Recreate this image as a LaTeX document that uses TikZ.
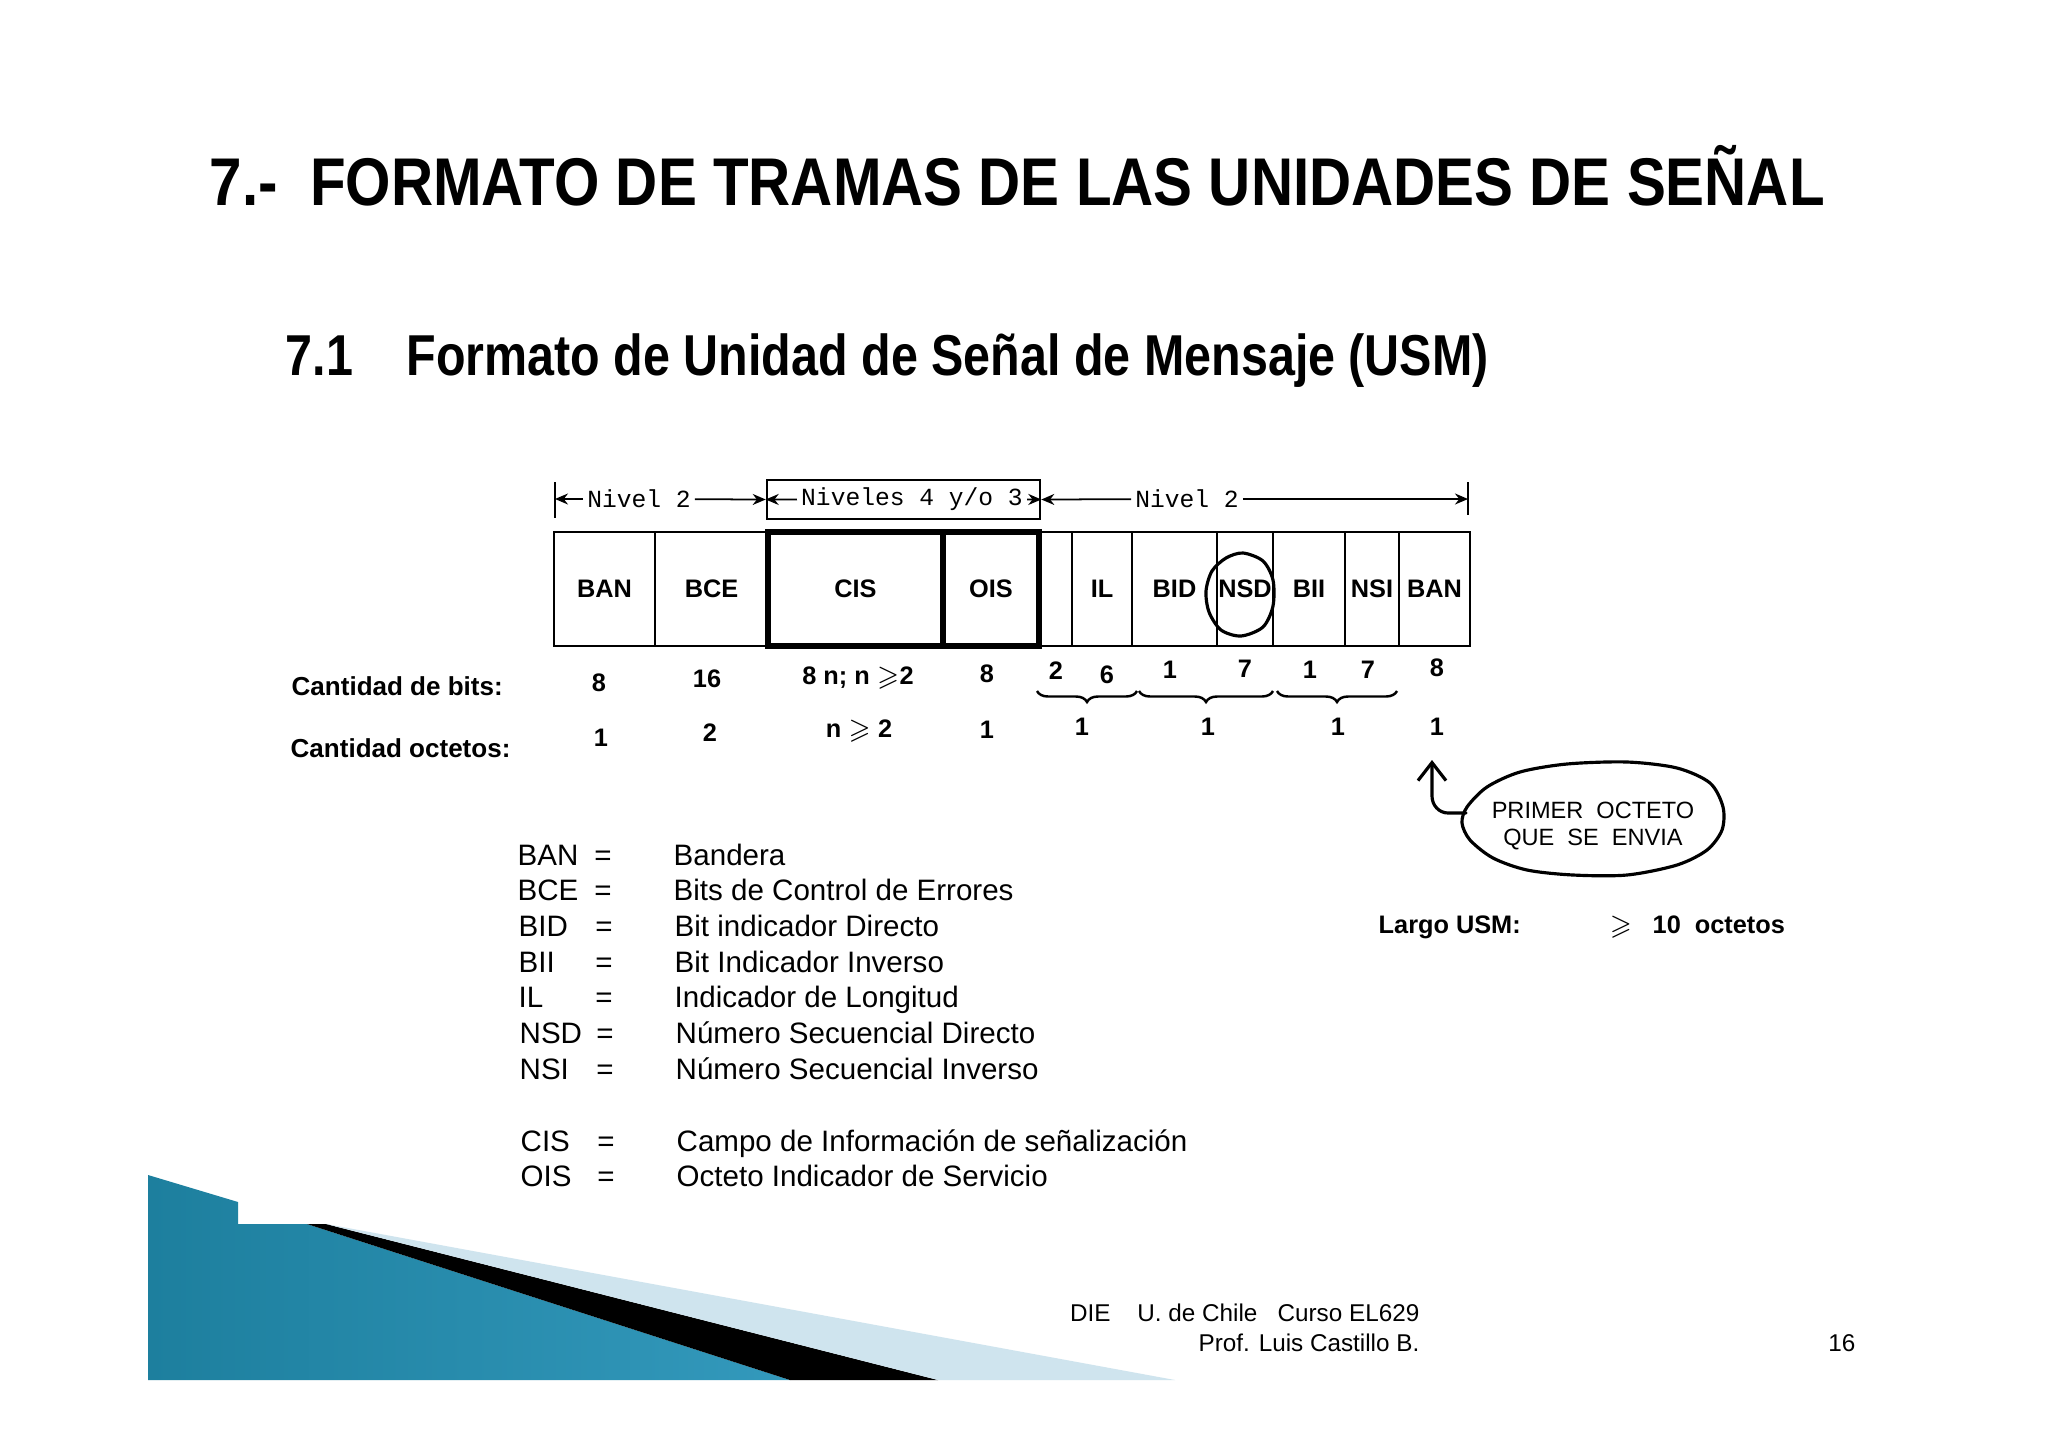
\documentclass[tikz,border=0pt]{standalone}
\usepackage{amsmath}
\usepackage{amssymb}
\usepackage{graphicx}
\usepackage{fontspec}
\setmainfont{Liberation Sans}
\setmonofont{Liberation Mono}
\usetikzlibrary{arrows.meta,decorations.pathreplacing}

\definecolor{tealosc}{HTML}{1D7F9E}
\definecolor{tealcla}{HTML}{5BBEDD}
\definecolor{tealmed}{HTML}{3399BC}
\definecolor{celeste}{HTML}{CFE4EE}

\newcommand{\fttitulo}{\fontsize{19.2}{23}\selectfont\bfseries}
\newcommand{\ftsub}{\fontsize{16.4}{20}\selectfont\bfseries}
\newcommand{\ftcampo}{\fontsize{7.2}{8.5}\selectfont\bfseries}
\newcommand{\ftcant}{\fontsize{7.4}{8.5}\selectfont\bfseries}
\newcommand{\ftnivel}{\fontsize{7}{8}\selectfont\ttfamily}
\newcommand{\ftleyenda}{\fontsize{8.4}{10}\selectfont}
\newcommand{\ftpie}{\fontsize{6.9}{8}\selectfont}
\newcommand{\ftnota}{\fontsize{6.7}{7.8}\selectfont}

\tikzset{
  campo/.style={draw, line width=0.7pt, minimum height=1.14cm, inner sep=0pt, font=\ftcampo},
  grueso/.style={campo, line width=1.6pt},
  num/.style={font=\ftcampo, inner sep=1pt},
  cota/.style={line width=0.5pt, -{Stealth[length=1.3mm,width=1.1mm]}},
  marca/.style={line width=0.6pt},
  llave/.style={line width=0.7pt, decorate, decoration={brace, mirror, amplitude=1.1mm}},
  mano/.style={line width=0.9pt, line cap=round, line join=round},
  abrev/.style={anchor=base west, font=\ftleyenda, inner sep=0pt},
  igual/.style={anchor=base, font=\ftleyenda, inner sep=0pt},
}

\begin{document}
\begin{tikzpicture}[x=0.01cm, y=-0.01cm]

\fill[white] (0,0) rectangle (2048,1448);
\useasboundingbox (0,0) rectangle (2048,1448);

% titles:
\node[anchor=base west, font=\fttitulo, inner sep=0pt] (titulo) at (209,205)
  {\scalebox{0.864}[1]{7.-\ \ FORMATO DE TRAMAS DE LAS UNIDADES DE SEÑAL}};
\node[anchor=base west, font=\ftsub, inner sep=0pt] (subnum) at (285,375) {\scalebox{0.84}[1]{7.1}};
\node[anchor=base west, font=\ftsub, inner sep=0pt] (subtit) at (406,375)
  {\scalebox{0.84}[1]{Formato de Unidad de Señal de Mensaje (USM)}};

% levels on top:
\coordinate (ci) at (555,499);
\draw[marca] (555,482) -- (555,518);
\node[font=\ftnivel, inner sep=1pt] (niv2a) at (639,499) {Nivel 2};
\node[draw, line width=0.7pt, minimum width=2.73cm, minimum height=0.39cm, inner sep=0pt] (cajaniv) at (903.5,499.5) {};
\node[font=\ftnivel, inner sep=1pt] (niv43) at (912,499) {Niveles 4 y/o 3};
\node[font=\ftnivel, inner sep=1pt] (niv2b) at (1187,499) {Nivel 2};
\coordinate (cd) at (1468,499);
\draw[marca] (1468,482) -- (1468,515);

\draw[cota] (niv2a) -- (ci);
\draw[cota] (niv2a) -- (cajaniv.west);
\draw[cota] (niv43) -- (cajaniv.west);
\draw[cota] (niv43) -- (cajaniv.east);
\draw[cota] (niv2b) -- (cajaniv.east);
\draw[cota] (niv2b) -- (cd);

% fields of the frame:
\node[campo, minimum width=1.01cm] (ban1) at (604.5,589) {BAN};
\node[campo, minimum width=1.13cm] (bce) at (711.5,589) {BCE};
\node[campo, minimum width=0.33cm] (res) at (1055.5,589) {};
\node[campo, minimum width=0.60cm] (il) at (1102,589) {IL};
\node[campo, minimum width=0.85cm] (bid) at (1174.5,589) {BID};
\node[campo, minimum width=0.56cm] (nsd) at (1245,589) {NSD};
\node[campo, minimum width=0.72cm] (bii) at (1309,589) {BII};
\node[campo, minimum width=0.54cm] (nsi) at (1372,589) {NSI};
\node[campo, minimum width=0.71cm] (ban2) at (1434.5,589) {BAN};
\node[grueso, minimum width=1.75cm] (cis) at (855.5,589) {CIS};
\node[grueso, minimum width=0.96cm] (ois) at (991,589) {OIS};

% circle round NSD:
\draw[mano] plot[smooth cycle] coordinates {(1243,553) (1263,561) (1273,580) (1273,606) (1263,627) (1241,636) (1221,630) (1209,612) (1206,591) (1212,571) (1226,558)};

% bits:
\node[anchor=base west, font=\ftcant, inner sep=0pt] (cbits) at (291,695) {Cantidad de bits:};
\node[num] (b1) at (599,683) {8};
\node[num] (b2) at (707,679) {16};
\node[num] (b3) at (858,678) {8 n; n $\geqslant$2};
\node[num] (b4) at (987,674) {8};
\node[num] (b5) at (1056,671) {2};
\node[num] (b6) at (1107,675) {6};
\node[num] (b7) at (1170,670) {1};
\node[num] (b8) at (1245,669) {7};
\node[num] (b9) at (1310,670) {1};
\node[num] (b10) at (1368,670) {7};
\node[num] (b11) at (1437,668) {8};

\draw[llave] (1037,691) -- (1137,691);
\draw[llave] (1139,691) -- (1273,691);
\draw[llave] (1277,691) -- (1397,691);

% octets:
\node[anchor=base west, font=\ftcant, inner sep=0pt] (coct) at (290,757) {Cantidad octetos:};
\node[num] (o1) at (601,738) {1};
\node[num] (o2) at (710,733) {2};
\node[num] (o3) at (859,731) {n $\geqslant$ 2};
\node[num] (o4) at (987,730) {1};
\node[num] (o5) at (1082,727) {1};
\node[num] (o6) at (1208,727) {1};
\node[num] (o7) at (1338,727) {1};
\node[num] (o8) at (1437,727) {1};

% note:
\node[font=\ftnota, align=center, inner sep=1pt] (nota) at (1593,826) {PRIMER\ \ OCTETO\\QUE\ \ SE\ \ ENVIA};
\draw[mano] plot[smooth cycle] coordinates {(1467,807) (1487,787) (1520,772) (1567,764) (1627,762) (1677,768) (1710,783) (1723,807) (1722,830) (1707,850) (1677,865) (1627,875) (1573,875) (1527,870) (1493,858) (1470,840) (1462,823)};
\coordinate (notaiz) at (1466,813);
\coordinate (primer) at (1432,760);
\draw[mano, -{Straight Barb[length=1.8mm,width=2.8mm]}] (notaiz) -- (1448,813) to[out=180, in=-90] (1432,796) -- (primer);

\node[anchor=base west, font=\ftcampo, inner sep=0pt] (largo) at (1378,933) {Largo USM:};
\node[font=\ftcampo, inner sep=0pt] (mayor) at (1621,927) {$\boldsymbol{\geqslant}$};
\node[anchor=base west, font=\ftcampo, inner sep=0pt] (diez) at (1652,933) {10\ \ octetos};

% legend:
\node[abrev] (l1a) at (517,865) {BAN};
\node[igual] (l1e) at (603,865) {=};
\node[abrev] (l1d) at (673,865) {Bandera};
\node[abrev] (l2a) at (517,900) {BCE};
\node[igual] (l2e) at (603,900) {=};
\node[abrev] (l2d) at (673,900) {Bits de Control de Errores};
\node[abrev] (l3a) at (518,936) {BID};
\node[igual] (l3e) at (604,936) {=};
\node[abrev] (l3d) at (674,936) {Bit indicador Directo};
\node[abrev] (l4a) at (518,972) {BII};
\node[igual] (l4e) at (604,972) {=};
\node[abrev] (l4d) at (674,972) {Bit Indicador Inverso};
\node[abrev] (l5a) at (518,1007) {IL};
\node[igual] (l5e) at (604,1007) {=};
\node[abrev] (l5d) at (674,1007) {Indicador de Longitud};
\node[abrev] (l6a) at (519,1043) {NSD};
\node[igual] (l6e) at (605,1043) {=};
\node[abrev] (l6d) at (675,1043) {Número Secuencial Directo};
\node[abrev] (l7a) at (519,1079) {NSI};
\node[igual] (l7e) at (605,1079) {=};
\node[abrev] (l7d) at (675,1079) {Número Secuencial Inverso};

\node[abrev] (l8a) at (520,1151) {CIS};
\node[igual] (l8e) at (606,1151) {=};
\node[abrev] (l8d) at (676,1151) {Campo de Información de señalización};
\node[abrev] (l9a) at (520,1186) {OIS};
\node[igual] (l9e) at (606,1186) {=};
\node[abrev] (l9d) at (676,1186) {Octeto Indicador de Servicio};

% bottom corner:
\shade[left color=tealosc, middle color=tealcla, right color=tealmed] (148,1175) -- (238,1202) -- (238,1224) -- (307,1224) -- (790,1380) -- (148,1380) -- cycle;
\fill[black] (307,1224) -- (326,1224) -- (938,1380) -- (790,1380) -- cycle;
\fill[celeste] (326,1224) -- (1175,1380) -- (938,1380) -- cycle;

% footer:
\node[anchor=base east, font=\ftpie, inner sep=0pt] (pie1) at (1420,1321) {DIE\ \ \ \ U. de Chile\ \ \ Curso EL629};
\node[anchor=base east, font=\ftpie, inner sep=0pt] (pie2) at (1420,1351) {Prof. Luis Castillo B.};
\node[anchor=base east, font=\ftpie, inner sep=0pt] (pag) at (1856,1351) {16};

\end{tikzpicture}
\end{document}
